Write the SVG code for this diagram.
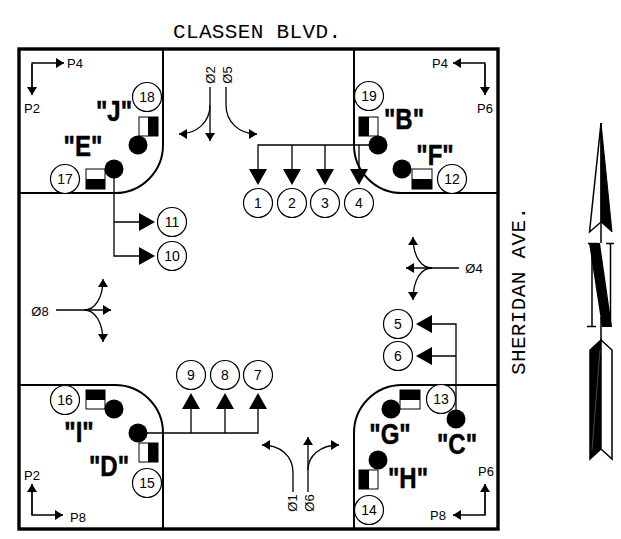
<svg xmlns="http://www.w3.org/2000/svg" width="621" height="539" viewBox="0 0 621 539">
<style>
.road{fill:none;stroke:#000;stroke-width:2}
.ln{fill:none;stroke:#000;stroke-width:1.3}
.c{fill:#fff;stroke:#000;stroke-width:1.2}
.d{fill:#000}
.h{fill:#fff;stroke:#000;stroke-width:1}
.t{font-family:"Liberation Sans",Arial,sans-serif;font-size:13px;fill:#000;text-anchor:middle}
.n{font-family:"Liberation Sans",Arial,sans-serif;font-size:14px;fill:#000;text-anchor:middle}
.b{font-family:"Liberation Sans",Arial,sans-serif;font-size:24px;font-weight:bold;fill:#000;stroke:#000;stroke-width:.4;text-anchor:middle}
.m{font-family:"Liberation Mono",monospace;font-size:21px;fill:#000;text-anchor:middle}
</style>
<defs>
<marker id="s" markerUnits="userSpaceOnUse" markerWidth="9" markerHeight="10" refX="8" refY="5" orient="auto"><path d="M0 0L8 5L0 10Z" fill="#000"/></marker>
</defs>
<rect id="border" x="19" y="49" width="479" height="480" fill="none" stroke="#000" stroke-width="3.4"/>
<g id="roads">
<path class="road" d="M163 49V145A48 48 0 0 1 115 193H19"/>
<path class="road" d="M354 49V145A48 48 0 0 0 402 193H498"/>
<path class="road" d="M19 385H115A48 48 0 0 1 163 433V529"/>
<path class="road" d="M498 385H402A48 48 0 0 0 354 433V529"/>
</g>
<g id="connectors">
<path class="ln" d="M378 145H258V170M292 145V170M325 145V170M359 145V170"/>
<path class="ln" d="M114 169V256H140M114 222H140"/>
<path class="ln" d="M456 419V324H432M456 356H432"/>
<path class="ln" d="M138 433H258V408M191 433V408M225 433V408"/>
<path class="d" d="M249 169H267L258 185ZM283 169H301L292 185ZM316 169H334L325 185ZM350 169H368L359 185Z"/>
<path class="d" d="M139 213V231L155 222ZM139 247V265L155 256Z"/>
<path class="d" d="M432 315V333L416 324ZM432 347V365L416 356Z"/>
<path class="d" d="M182 409H200L191 393ZM216 409H234L225 393ZM249 409H267L258 393Z"/>
<path class="ln" marker-end="url(#s)" d="M32 95V63H64"/>
<path class="ln" marker-end="url(#s)" d="M32 64V95"/>
<path class="ln" marker-end="url(#s)" d="M485 95V63H453"/>
<path class="ln" marker-end="url(#s)" d="M485 64V95"/>
<path class="ln" marker-end="url(#s)" d="M32 484V515H63"/>
<path class="ln" marker-end="url(#s)" d="M32 515V484"/>
<path class="ln" marker-end="url(#s)" d="M485 484V515H453"/>
<path class="ln" marker-end="url(#s)" d="M485 515V484"/>
<path class="ln" marker-end="url(#s)" d="M210 87V141"/>
<path class="ln" marker-end="url(#s)" d="M210 105C210 122 197 134 179 134"/>
<path class="ln" marker-end="url(#s)" d="M226 87V105C226 122 239 134 257 134"/>
<path class="ln" marker-end="url(#s)" d="M56 310H111"/>
<path class="ln" marker-end="url(#s)" d="M84 310C95 310 103 298 103 279"/>
<path class="ln" marker-end="url(#s)" d="M84 310C95 310 103 322 103 342"/>
<path class="ln" marker-end="url(#s)" d="M459 268H406"/>
<path class="ln" marker-end="url(#s)" d="M432 268C421 268 413 256 413 237"/>
<path class="ln" marker-end="url(#s)" d="M432 268C421 268 413 280 413 300"/>
<path class="ln" marker-end="url(#s)" d="M293 492V472C293 456 280 445 262 445"/>
<path class="ln" marker-end="url(#s)" d="M308 492V437"/>
<path class="ln" marker-end="url(#s)" d="M308 470C308 456 320 445 339 445"/>
</g>
<g id="title-n"><text class="m" x="257" y="38" textLength="168">CLASSEN BLVD.</text></g>
<g id="title-e"><text class="m" transform="translate(525 291) rotate(-90)" textLength="168">SHERIDAN AVE.</text></g>
<g id="phase-labels">
<text class="t" x="75" y="68">P4</text>
<text class="t" x="32" y="113">P2</text>
<text class="t" x="440" y="68">P4</text>
<text class="t" x="485" y="113">P6</text>
<text class="t" x="32" y="480">P2</text>
<text class="t" x="78" y="522">P8</text>
<text class="t" x="438" y="520">P8</text>
<text class="t" x="486" y="476">P6</text>
<text class="t" transform="translate(215 75) rotate(-90)">Ø2</text>
<text class="t" transform="translate(232 75) rotate(-90)">Ø5</text>
<text class="t" transform="translate(297 503) rotate(-90)">Ø1</text>
<text class="t" transform="translate(314 503) rotate(-90)">Ø6</text>
<text class="t" x="40" y="316">Ø8</text>
<text class="t" x="474" y="273">Ø4</text>
</g>
<g id="n1"><circle class="c" cx="258" cy="203" r="14.5"/><text class="n" x="258" y="208">1</text></g>
<g id="n2"><circle class="c" cx="292" cy="203" r="14.5"/><text class="n" x="292" y="208">2</text></g>
<g id="n3"><circle class="c" cx="325" cy="203" r="14.5"/><text class="n" x="325" y="208">3</text></g>
<g id="n4"><circle class="c" cx="359" cy="203" r="14.5"/><text class="n" x="359" y="208">4</text></g>
<g id="n5"><circle class="c" cx="398" cy="324" r="14.5"/><text class="n" x="398" y="329">5</text></g>
<g id="n6"><circle class="c" cx="398" cy="356" r="14.5"/><text class="n" x="398" y="361">6</text></g>
<g id="n7"><circle class="c" cx="258" cy="375" r="14.5"/><text class="n" x="258" y="380">7</text></g>
<g id="n8"><circle class="c" cx="225" cy="375" r="14.5"/><text class="n" x="225" y="380">8</text></g>
<g id="n9"><circle class="c" cx="191" cy="375" r="14.5"/><text class="n" x="191" y="380">9</text></g>
<g id="n10"><circle class="c" cx="172" cy="256" r="14.5"/><text class="n" x="172" y="261">10</text></g>
<g id="n11"><circle class="c" cx="172" cy="222" r="14.5"/><text class="n" x="172" y="227">11</text></g>
<g id="n12"><circle class="c" cx="452" cy="179" r="14.5"/><text class="n" x="452" y="184">12</text></g>
<g id="n13"><circle class="c" cx="441" cy="399" r="14.5"/><text class="n" x="441" y="404">13</text></g>
<g id="n14"><circle class="c" cx="369" cy="510" r="14.5"/><text class="n" x="369" y="515">14</text></g>
<g id="n15"><circle class="c" cx="147" cy="483" r="14.5"/><text class="n" x="147" y="488">15</text></g>
<g id="n16"><circle class="c" cx="65" cy="400" r="14.5"/><text class="n" x="65" y="405">16</text></g>
<g id="n17"><circle class="c" cx="65" cy="179" r="14.5"/><text class="n" x="65" y="184">17</text></g>
<g id="n18"><circle class="c" cx="147" cy="97" r="14.5"/><text class="n" x="147" y="102">18</text></g>
<g id="n19"><circle class="c" cx="369" cy="96" r="14.5"/><text class="n" x="369" y="101">19</text></g>
<g id="signal-J"><rect class="h" x="139" y="117" width="19" height="19"/><rect class="d" x="148" y="117" width="10" height="19"/><circle class="d" cx="138" cy="145" r="9.5"/><text class="b" transform="translate(114 121) scale(1 1.2)">"J"</text></g>
<g id="signal-E"><rect class="h" x="86" y="169" width="19" height="20"/><rect class="d" x="86" y="179" width="19" height="10"/><circle class="d" cx="114" cy="169" r="9.5"/><text class="b" transform="translate(83 156) scale(1 1.2)">"E"</text></g>
<g id="signal-B"><rect class="h" x="359" y="117" width="19" height="19"/><rect class="d" x="359" y="117" width="10" height="19"/><circle class="d" cx="378" cy="145" r="9.5"/><text class="b" transform="translate(404 129) scale(1 1.2)">"B"</text></g>
<g id="signal-F"><rect class="h" x="412" y="169" width="20" height="20"/><rect class="d" x="412" y="179" width="20" height="10"/><circle class="d" cx="402" cy="169" r="9.5"/><text class="b" transform="translate(435 165) scale(1 1.2)">"F"</text></g>
<g id="signal-I"><rect class="h" x="86" y="390" width="19" height="19"/><rect class="d" x="86" y="390" width="19" height="10"/><circle class="d" cx="114" cy="409" r="9.5"/><text class="b" transform="translate(79 442) scale(1 1.2)">"I"</text></g>
<g id="signal-D"><rect class="h" x="139" y="443" width="19" height="19"/><rect class="d" x="148" y="443" width="10" height="19"/><circle class="d" cx="138" cy="433" r="9.5"/><text class="b" transform="translate(109 476) scale(1 1.2)">"D"</text></g>
<g id="signal-G"><rect class="h" x="400" y="390" width="20" height="19"/><rect class="d" x="400" y="390" width="20" height="10"/><circle class="d" cx="391" cy="409" r="9.5"/><text class="b" transform="translate(390 444) scale(1 1.2)">"G"</text></g>
<g id="signal-C"><circle class="d" cx="456" cy="419" r="9.5"/><text class="b" transform="translate(457 454) scale(1 1.2)">"C"</text></g>
<g id="signal-H"><rect class="h" x="359" y="470" width="19" height="19"/><rect class="d" x="359" y="470" width="10" height="19"/><circle class="d" cx="378" cy="460" r="9.5"/><text class="b" transform="translate(408 488) scale(1 1.2)">"H"</text></g>
<g id="north-arrow">
<path d="M601 123L589.500 232L601 222Z" fill="#fff" stroke="#000" stroke-width="1.5"/>
<path d="M601 123L612 232L601 222Z" fill="#000" stroke="#000"/>
<path d="M601 222V243M601 317V340" fill="none" stroke="#000" stroke-width="1.5"/>
<path d="M601 340L590 350V459L601 449Z" fill="#000" stroke="#000" stroke-width="1.500"/>
<path d="M601 340L612 350V459L601 449Z" fill="#fff" stroke="#000" stroke-width="1.500"/>
<path d="M600 350L592 450" fill="none" stroke="#777" stroke-width=".6"/>
<path d="M588 243.500H598M606 243.500H614M592 243V327M610.500 243V327M587 326.500H596" fill="none" stroke="#000" stroke-width="1.500"/>
<path d="M589 243H600L612 327H602Z" fill="#000"/>
</g>
</svg>
